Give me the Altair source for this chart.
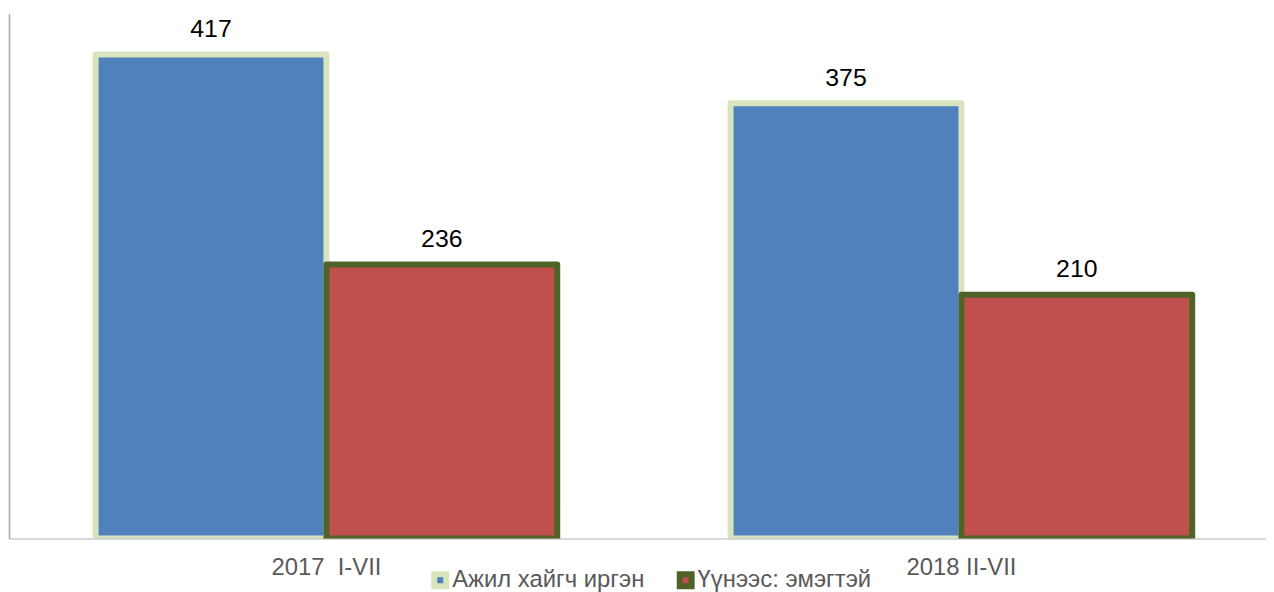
import altair as alt
import pandas as pd

categories = ["2017\u00a0\u00a0I-VII", "2018 II-VII"]
series = ["Ажил хайгч иргэн", "Үүнээс: эмэгтэй"]
job_seekers = [417, 375]
women = [236, 210]

fill_colors = ["#4f81bd", "#c0504d"]
stroke_colors = ["#d7e4bd", "#4f6228"]

rows = []
for i, c in enumerate(categories):
    rows.append({"period": c, "series": series[0], "value": job_seekers[i]})
    rows.append({"period": c, "series": series[1], "value": women[i]})
df = pd.DataFrame(rows)

FONT = "Liberation Sans"

x = alt.X(
    "period:N", sort=categories, title=None,
    scale=alt.Scale(paddingInner=0.273, paddingOuter=0.1263, align=0.54),
    axis=alt.Axis(labelAngle=0, labelFontSize=24, labelColor="#595959", labelFont=FONT,
                  ticks=False, tickSize=0, labelPadding=36, labelBaseline="alphabetic",
                  domainColor="#d9d9d9", domainWidth=2, grid=False),
)
xo = alt.XOffset("series:N", sort=series, scale=alt.Scale(paddingInner=0, paddingOuter=0))
y = alt.Y(
    "value:Q", title=None,
    scale=alt.Scale(domain=[0, 452], nice=False, zero=True),
    axis=alt.Axis(labels=False, ticks=False, grid=False, domainColor="#a6a6a6", domainWidth=1.5),
)

leg = alt.Legend(
    orient="none", legendX=422, legendY=558, direction="horizontal", title=None,
    labelFontSize=24, labelColor="#595959", labelFont=FONT, symbolType="square",
    symbolSize=144, symbolStrokeWidth=6, labelOffset=0, columnPadding=23, padding=0,
    rowPadding=0, labelLimit=400,
)

bars = alt.Chart(df).mark_bar(strokeWidth=6, strokeJoin="round", clip=True).encode(
    x=x, xOffset=xo, y=y,
    fill=alt.Fill("series:N", sort=series, scale=alt.Scale(domain=series, range=fill_colors), legend=leg),
    stroke=alt.Stroke("series:N", sort=series, scale=alt.Scale(domain=series, range=stroke_colors), legend=leg),
)

labels = alt.Chart(df).mark_text(fontSize=25, font=FONT, color="#000000", baseline="alphabetic", dy=-17.5).encode(
    x=x, xOffset=xo, y=y, text="value:Q"
)

chart = alt.layer(bars, labels).properties(
    width=1265, height=528,
    padding={"left": 1, "top": 4, "right": 0, "bottom": 52},
    autosize=alt.AutoSizeParams(type="none"),
    background="white",
).configure_view(stroke=None)

chart.save("out.html", embed_options={"renderer": "svg", "actions": False})
